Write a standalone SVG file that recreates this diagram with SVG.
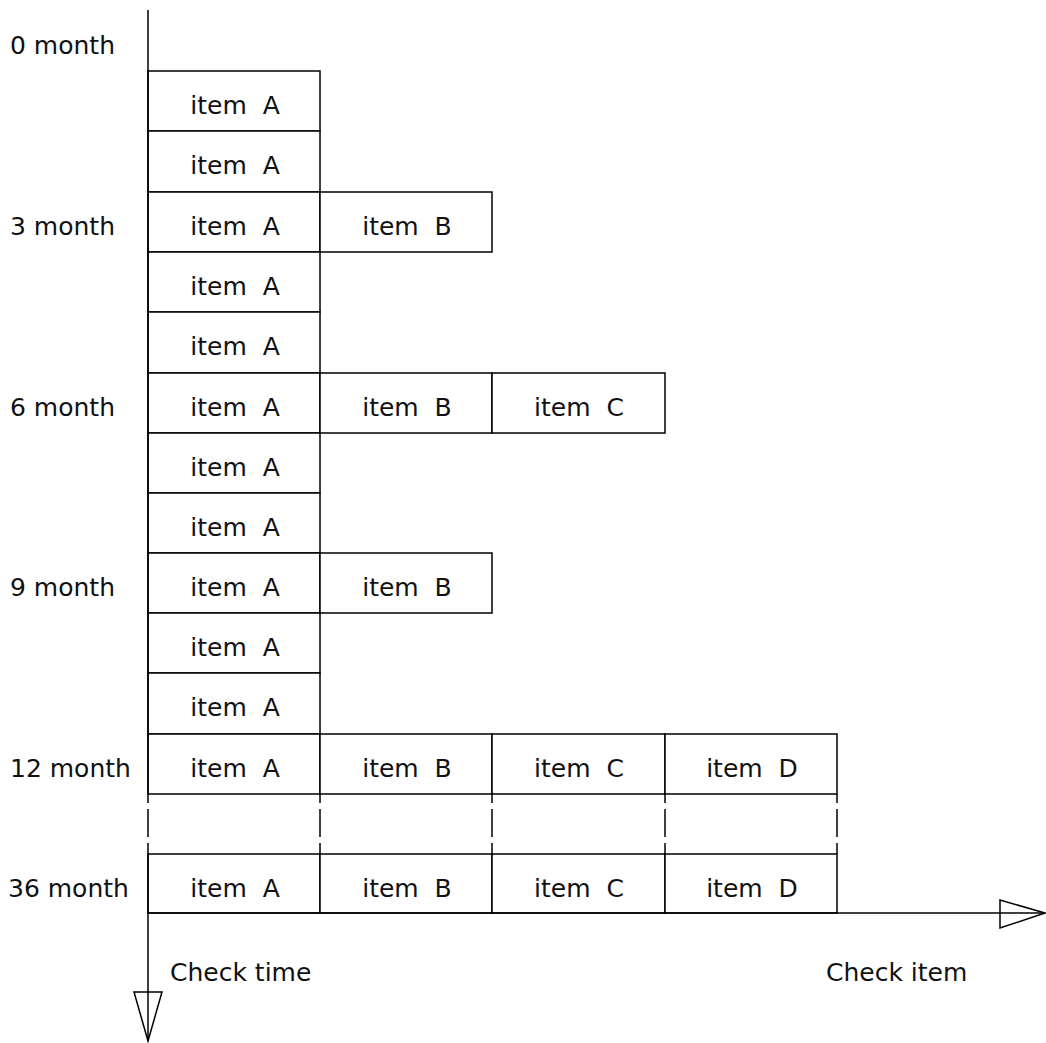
<svg xmlns="http://www.w3.org/2000/svg" width="1046" height="1043" viewBox="0 0 1046 1043">
<style>
.c{fill:#fff;stroke:#000;stroke-width:1.5}
.t{font-family:"DejaVu Sans",Verdana,sans-serif;font-size:25px;fill:#111;white-space:pre}
.m{text-anchor:middle}
.ax{stroke:#000;stroke-width:1.5;fill:none}
.ah{stroke:#000;stroke-width:1.5;fill:#fff}
</style>
<g id="labels">
<text class="t" x="10" y="54">0 month</text>
<text class="t" x="10" y="235">3 month</text>
<text class="t" x="10" y="416">6 month</text>
<text class="t" x="10" y="596">9 month</text>
<text class="t" x="10" y="777">12 month</text>
<text class="t" x="8" y="897">36 month</text>
</g>
<g id="r0"><rect class="c" x="148" y="71" width="172" height="60"/><text class="t m" x="235" y="114" xml:space="preserve">item  A</text></g>
<g id="r1"><rect class="c" x="148" y="131" width="172" height="61"/><text class="t m" x="235" y="174" xml:space="preserve">item  A</text></g>
<g id="r2a"><rect class="c" x="148" y="192" width="172" height="60"/><text class="t m" x="235" y="235" xml:space="preserve">item  A</text></g>
<g id="r2b"><rect class="c" x="320" y="192" width="172" height="60"/><text class="t m" x="407" y="235" xml:space="preserve">item  B</text></g>
<g id="r3"><rect class="c" x="148" y="252" width="172" height="60"/><text class="t m" x="235" y="295" xml:space="preserve">item  A</text></g>
<g id="r4"><rect class="c" x="148" y="312" width="172" height="61"/><text class="t m" x="235" y="355" xml:space="preserve">item  A</text></g>
<g id="r5a"><rect class="c" x="148" y="373" width="172" height="60"/><text class="t m" x="235" y="416" xml:space="preserve">item  A</text></g>
<g id="r5b"><rect class="c" x="320" y="373" width="172" height="60"/><text class="t m" x="407" y="416" xml:space="preserve">item  B</text></g>
<g id="r5c"><rect class="c" x="492" y="373" width="173" height="60"/><text class="t m" x="579" y="416" xml:space="preserve">item  C</text></g>
<g id="r6"><rect class="c" x="148" y="433" width="172" height="60"/><text class="t m" x="235" y="476" xml:space="preserve">item  A</text></g>
<g id="r7"><rect class="c" x="148" y="493" width="172" height="60"/><text class="t m" x="235" y="536" xml:space="preserve">item  A</text></g>
<g id="r8a"><rect class="c" x="148" y="553" width="172" height="60"/><text class="t m" x="235" y="596" xml:space="preserve">item  A</text></g>
<g id="r8b"><rect class="c" x="320" y="553" width="172" height="60"/><text class="t m" x="407" y="596" xml:space="preserve">item  B</text></g>
<g id="r9"><rect class="c" x="148" y="613" width="172" height="60"/><text class="t m" x="235" y="656" xml:space="preserve">item  A</text></g>
<g id="r10"><rect class="c" x="148" y="673" width="172" height="61"/><text class="t m" x="235" y="716" xml:space="preserve">item  A</text></g>
<g id="r11a"><rect class="c" x="148" y="734" width="172" height="60"/><text class="t m" x="235" y="777" xml:space="preserve">item  A</text></g>
<g id="r11b"><rect class="c" x="320" y="734" width="172" height="60"/><text class="t m" x="407" y="777" xml:space="preserve">item  B</text></g>
<g id="r11c"><rect class="c" x="492" y="734" width="173" height="60"/><text class="t m" x="579" y="777" xml:space="preserve">item  C</text></g>
<g id="r11d"><rect class="c" x="665" y="734" width="172" height="60"/><text class="t m" x="752" y="777" xml:space="preserve">item  D</text></g>
<g id="r36a"><rect class="c" x="148" y="854" width="172" height="59"/><text class="t m" x="235" y="897" xml:space="preserve">item  A</text></g>
<g id="r36b"><rect class="c" x="320" y="854" width="172" height="59"/><text class="t m" x="407" y="897" xml:space="preserve">item  B</text></g>
<g id="r36c"><rect class="c" x="492" y="854" width="173" height="59"/><text class="t m" x="579" y="897" xml:space="preserve">item  C</text></g>
<g id="r36d"><rect class="c" x="665" y="854" width="172" height="59"/><text class="t m" x="752" y="897" xml:space="preserve">item  D</text></g>
<g id="connectors">
<path class="ax" d="M148 10V794M148 854V992"/>
<path class="ax" d="M148 913H1000"/>
<path class="ax" stroke-dasharray="9 6 28 6 12" d="M148 794V854M320 794V854M492 794V854M665 794V854M837 794V854"/>
<polygon class="ah" points="134,992 162,992 148,1041"/>
<line class="ax" x1="148" y1="992" x2="148" y2="1041"/>
<polygon class="ah" points="1000,900 1000,928 1045,913"/>
<line class="ax" x1="1000" y1="913" x2="1045" y2="913"/>
</g>
<g id="axis-labels">
<text class="t" x="170" y="981">Check time</text>
<text class="t" x="826" y="981">Check item</text>
</g>
</svg>
